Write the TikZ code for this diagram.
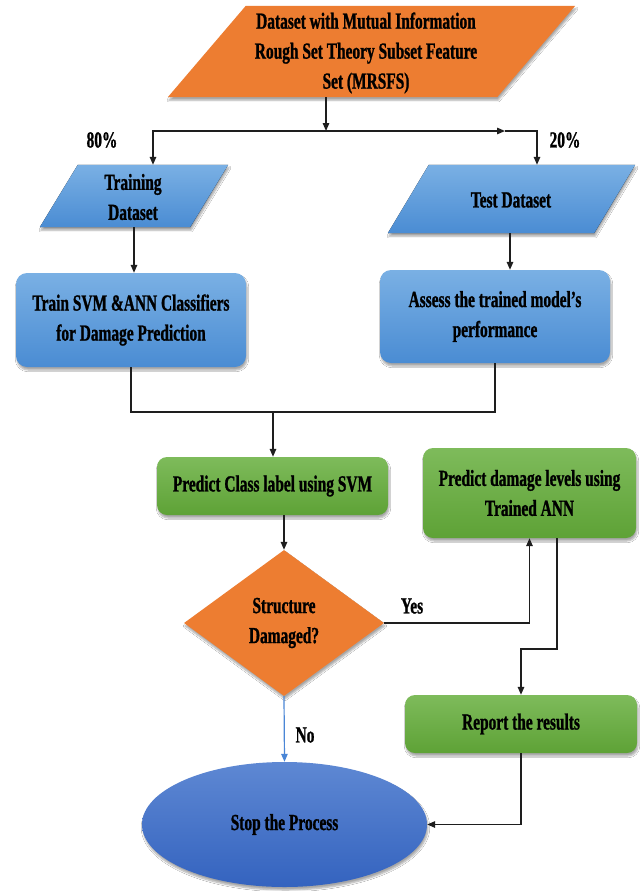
\documentclass[tikz,border=0pt]{standalone}
\usepackage{fontspec}
\newfontfamily\labfont[FakeStretch=0.67,FakeBold=1]{Liberation Serif}
\usetikzlibrary{arrows.meta,shapes.geometric,calc,shadows.blur}

\definecolor{orangefill}{HTML}{ED7D31}
\definecolor{bluetop}{HTML}{7AB0E4}
\definecolor{bluebot}{HTML}{4A8CD3}
\definecolor{greentop}{HTML}{7EBB5B}
\definecolor{greenbot}{HTML}{5EA236}
\definecolor{ovaltop}{HTML}{5E88D3}
\definecolor{ovalbot}{HTML}{3463BF}
\definecolor{linecol}{HTML}{1E1E1E}
\definecolor{nocol}{HTML}{4A86D6}

\tikzset{
  txt/.style={font=\labfont\bfseries\fontsize{23}{30}\selectfont, text=black, align=center},
  shade/.style={blur shadow={shadow xshift=1pt, shadow yshift=-3pt, shadow blur steps=6, shadow opacity=35}},
  holder/.style={rectangle, inner sep=0pt, txt},
  bluebox/.style={rectangle, rounded corners=11pt, inner sep=0pt, txt, top color=bluetop, bottom color=bluebot, shade},
  greenbox/.style={rectangle, rounded corners=10pt, inner sep=0pt, txt, top color=greentop, bottom color=greenbot, shade},
  arr/.style={draw=linecol, line width=1.4pt, -{Triangle[length=8pt,width=6.5pt]}},
  link/.style={draw=linecol, line width=1.4pt},
  lbl/.style={txt, inner sep=0pt},
}

\begin{document}
\begin{tikzpicture}[x=1pt, y=-1pt]
\useasboundingbox (0,0) rectangle (641,891);
\fill[white] (0,0) rectangle (641,891);

% input parallelograms: empty holders give the anchors, fills are drawn from them
\node[holder, minimum width=329pt, minimum height=91pt] (src) at (371.5,51.5) {};
\node[holder, minimum width=150pt, minimum height=62pt] (trainset) at (134,196) {};
\node[holder, minimum width=206pt, minimum height=68pt] (testset) at (511.5,199) {};

\fill[orangefill, shade]
  ($(src.south west)+(-39,0)$) -- ($(src.north west)+(39,0)$) --
  ($(src.north east)+(39,0)$) -- ($(src.south east)+(-39,0)$) -- cycle;
\fill[top color=bluetop, bottom color=bluebot, shade]
  ($(trainset.south west)+(-19,0)$) -- ($(trainset.north west)+(19,0)$) --
  ($(trainset.north east)+(19,0)$) -- ($(trainset.south east)+(-19,0)$) -- cycle;
\fill[top color=bluetop, bottom color=bluebot, shade]
  ($(testset.south west)+(-20.5,0)$) -- ($(testset.north west)+(20.5,0)$) --
  ($(testset.north east)+(20.5,0)$) -- ($(testset.south east)+(-20.5,0)$) -- cycle;

\node[txt] (srctext) at (366,53) {Dataset with Mutual Information\\Rough Set Theory Subset Feature\\Set (MRSFS)};
\node[txt] (traintext) at (133,197) {Training\\Dataset};
\node[txt] (testtext) at (511,200) {Test Dataset};

% process boxes
\node[bluebox, minimum width=230pt, minimum height=94pt] (trainbox) at (131,320) {Train SVM \&ANN Classifiers\\for Damage Prediction};
\node[bluebox, minimum width=230pt, minimum height=93pt] (assess) at (495,316.5) {Assess the trained model’s\\performance};
\node[greenbox, minimum width=231pt, minimum height=58pt] (svm) at (272.5,486) {Predict Class label using SVM};
\node[greenbox, minimum width=213pt, minimum height=90pt] (ann) at (529.5,493) {Predict damage levels using\\Trained ANN};
\node[greenbox, minimum width=232pt, minimum height=58pt] (report) at (521,724) {Report the results};

% decision and terminator
\node[diamond, aspect=1.37, minimum width=200pt, minimum height=146pt, inner sep=0pt, fill=orangefill, shade, txt] (dec) at (284,623) {Structure\\Damaged?};
\node[ellipse, minimum width=285pt, minimum height=125pt, inner sep=0pt, top color=ovaltop, bottom color=ovalbot, shade, txt] (stop) at (284.5,824.5) {Stop the Process};

% split and branch labels
\node[lbl] (pc80) at (102,140) {80\%};
\node[lbl] (pc20) at (565,140) {20\%};
\node[lbl] (yes) at (412,606) {Yes};
\node[lbl] (no) at (305,735) {No};

% connectors
\coordinate (split) at (326,131);
\coordinate (rightarrow) at (505,131);
\coordinate (join) at (273,412);
\coordinate (bend) at (521,649);

\draw[arr] (split |- src.south) -- (split);
\draw[arr] (split) -| ($(trainset.north)+(19,0)$);
\draw[arr] (split) -- (rightarrow);
\draw[arr] (rightarrow) -| ($(testset.north)+(25.5,0)$);
\draw[arr] (trainset.south) -- (trainset.south |- trainbox.north);
\draw[arr] ($(testset.south)+(-1.5,0)$) -- ($(testset.south |- assess.north)+(-1.5,0)$);
\draw[link] (trainbox.south) |- (join) -| (assess.south);
\draw[arr] (join) -- (join |- svm.north);
\draw[arr] (dec.north |- svm.south) -- (dec.north);
\draw[arr] (dec.east) -| (ann.south);
\draw[arr] ($(ann.south)+(27.5,0)$) |- (bend) -- (report.north);
\draw[draw=nocol, line width=1.2pt, -{Triangle[length=8pt,width=6.5pt]}] (dec.south) -- (stop.north);
\draw[arr] (report.south) |- (stop.east);
\end{tikzpicture}
\end{document}
